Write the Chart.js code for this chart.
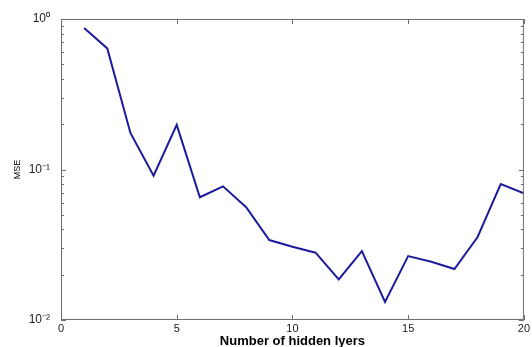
<!DOCTYPE html>
<html>
<head>
<meta charset="utf-8">
<script src="https://cdn.jsdelivr.net/npm/chart.js@4"></script>
<style>
  html, body { margin: 0; padding: 0; background: #fff; }
  #wrap { width: 532px; height: 347px; }
</style>
</head>
<body>
<div id="wrap"><canvas id="grafica" width="532" height="347"></canvas></div>
<script>
// datos
const capas = [1, 2, 3, 4, 5, 6, 7, 8, 9, 10, 11, 12, 13, 14, 15, 16, 17, 18, 19, 20];
const mse = [0.871, 0.638, 0.175, 0.091, 0.198, 0.0654, 0.0773, 0.0561, 0.034, 0.0307,
             0.028, 0.0186, 0.0287, 0.0132, 0.0266, 0.0244, 0.0218, 0.0356, 0.080, 0.0695];
const xTicks = [0, 5, 10, 15, 20];
const yTicks = [1, 0.1, 0.01];
const yLabels = ['10\u2070', '10\u207B\u00B9', '10\u207B\u00B2'];

// marco y marcas hacia dentro (estilo matlab)
const marcoPlugin = {
    id: 'marco',
    afterDraw(chart) {
        const ctx = chart.ctx;
        const a = chart.chartArea;
        const xs = chart.scales.x;
        const ys = chart.scales.y;
        ctx.save();
        ctx.strokeStyle = '#6e6e6e';
        ctx.lineWidth = 1;
        ctx.strokeRect(a.left + 0.5, a.top + 0.5, a.right - a.left - 1, a.bottom - a.top - 1);
        ctx.beginPath();
        xTicks.forEach(v => {
            const px = Math.round(xs.getPixelForValue(v)) + 0.5;
            ctx.moveTo(px, a.bottom); ctx.lineTo(px, a.bottom - 5);
            ctx.moveTo(px, a.top); ctx.lineTo(px, a.top + 5);
        });
        for (let d = -2; d < 0; d++) {
            for (let m = 1; m <= 9; m++) {
                const v = m * Math.pow(10, d);
                const py = Math.round(ys.getPixelForValue(v)) + 0.5;
                const len = m === 1 ? 5 : 3;
                ctx.moveTo(a.left, py); ctx.lineTo(a.left + len, py);
                ctx.moveTo(a.right, py); ctx.lineTo(a.right - len, py);
            }
        }
        ctx.stroke();
        ctx.restore();
    }
};

const ctx = document.getElementById('grafica').getContext('2d');

new Chart(ctx, {
    type: 'line',
    data: {
        datasets: [{
            label: 'MSE',
            data: capas.map((c, i) => ({ x: c, y: mse[i] })),
            borderColor: '#1c1c9c',
            borderWidth: 2,
            pointRadius: 0,
            tension: 0,
            fill: false
        }]
    },
    options: {
        responsive: false,
        animation: false,
        events: [],
        layout: { padding: { top: 19, right: 6, left: 0, bottom: 0 } },
        plugins: { legend: { display: false }, tooltip: { enabled: false } },
        scales: {
            x: {
                type: 'linear',
                min: 0,
                max: 20,
                afterBuildTicks: s => { s.ticks = xTicks.map(v => ({ value: v })); },
                afterFit: s => { s.height = 27; },
                grid: { display: false, drawTicks: false },
                border: { display: false },
                ticks: {
                    padding: 2,
                    color: '#222',
                    font: { family: 'Liberation Sans', size: 11 }
                },
                title: {
                    display: true,
                    text: 'Number of hidden lyers',
                    color: '#000',
                    padding: { top: 0, bottom: 0 },
                    font: { family: 'Liberation Sans', size: 13, weight: 'bold', lineHeight: 0.9 }
                }
            },
            y: {
                type: 'logarithmic',
                min: 0.01,
                max: 1,
                afterBuildTicks: s => { s.ticks = yTicks.map(v => ({ value: v })); },
                afterFit: s => { s.width = 61; },
                grid: { display: false, drawTicks: false },
                border: { display: false },
                ticks: {
                    padding: 11,
                    color: '#222',
                    font: { family: 'Liberation Sans', size: 12 },
                    callback: v => {
                        const i = yTicks.indexOf(v);
                        return i >= 0 ? yLabels[i] : '';
                    }
                },
                title: {
                    display: true,
                    text: 'MSE',
                    color: '#000',
                    padding: { top: 12, bottom: 0 },
                    font: { family: 'Liberation Sans', size: 9 }
                }
            }
        }
    },
    plugins: [marcoPlugin]
});
</script>
</body>
</html>
